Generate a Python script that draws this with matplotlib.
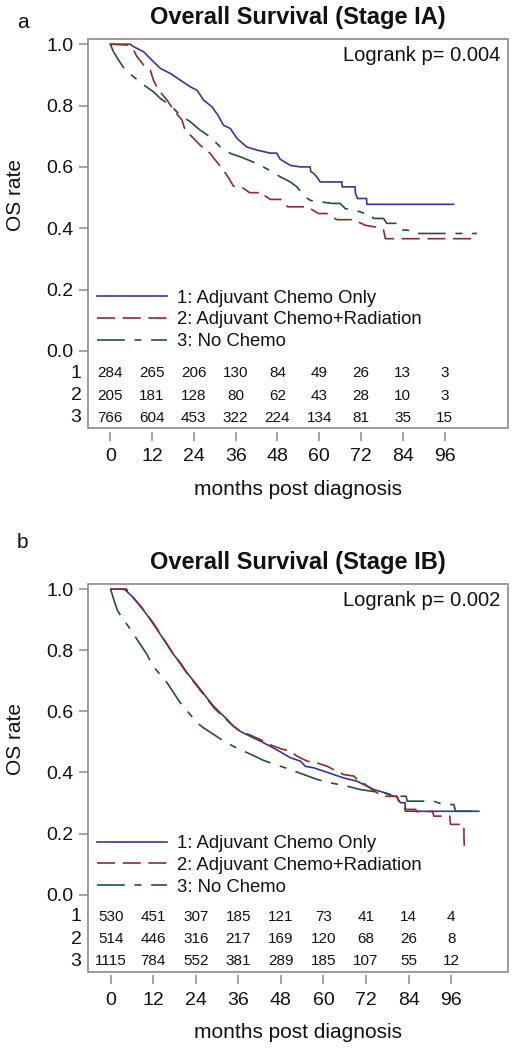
import matplotlib
matplotlib.use("Agg")
import matplotlib.pyplot as plt
from matplotlib.lines import Line2D
from matplotlib.patches import Rectangle
import matplotlib.transforms as mtransforms

plt.rcParams['font.family'] = ['Liberation Sans', 'DejaVu Sans']
plt.rcParams['lines.scale_dashes'] = False

# ---------------- data (curve vertices) ----------------
group_labels = ["1: Adjuvant Chemo Only", "2: Adjuvant Chemo+Radiation", "3: No Chemo"]
risk_times = [0, 12, 24, 36, 48, 60, 72, 84, 96]

# Panel a (Stage IA)
a_t1 = [0, 5.7, 6.7, 9.6, 12.4, 14.4, 17.2, 20.1, 23, 24.9, 26.8, 29.2, 30.9, 32.5, 34.5, 36.4,
        39.2, 42.1, 45.9, 47.8, 48.8, 51.7, 54.5, 57.4, 57.6, 58.4, 59.5, 60.3, 66.5, 66.6, 70.3,
        70.4, 71, 73.6, 73.7, 98.6]
a_s1 = [1.0, 1.0, 0.992, 0.975, 0.943, 0.921, 0.905, 0.883, 0.861, 0.85, 0.818, 0.796, 0.769,
        0.736, 0.725, 0.693, 0.665, 0.655, 0.645, 0.645, 0.625, 0.605, 0.600, 0.600, 0.585, 0.579,
        0.565, 0.551, 0.551, 0.535, 0.535, 0.515, 0.497, 0.497, 0.478, 0.478]
a_t2 = [0, 5, 6.7, 7.7, 9.6, 11.5, 12.4, 13.9, 16.3, 18.2, 20.6, 21.5, 23.5, 25.8, 28.7, 30.2,
        32.1, 33.5, 35.4, 38.3, 40, 44, 44.5, 46, 49, 49.8, 51, 56.5, 57.9, 59.8, 62.2, 63.7, 65.1,
        70, 71.3, 73.2, 76.1, 78, 78.5, 79, 104.3]
a_s2 = [1.0, 0.997, 0.981, 0.959, 0.932, 0.916, 0.883, 0.85, 0.818, 0.785, 0.753, 0.72, 0.698,
        0.671, 0.644, 0.622, 0.595, 0.573, 0.537, 0.53, 0.516, 0.516, 0.505, 0.494, 0.494, 0.483,
        0.47, 0.47, 0.461, 0.448, 0.448, 0.437, 0.428, 0.428, 0.42, 0.41, 0.404, 0.394, 0.394,
        0.366, 0.366]
a_t3 = [0, 0.95, 2.4, 4.3, 6.7, 9.6, 12.4, 14.4, 17.2, 20.1, 23, 25.8, 28.7, 31.6, 34.5, 37.3,
        40.2, 43.1, 45.9, 48.8, 51.7, 53.6, 55.5, 57.4, 60.3, 63.7, 66, 67.5, 70.8, 73.2, 74.5, 75.6,
        78.5, 79.4, 82, 82.3, 83.3, 85.5, 87.1, 105.3]
a_s3 = [1.0, 0.975, 0.948, 0.916, 0.894, 0.867, 0.845, 0.823, 0.801, 0.769, 0.747, 0.72, 0.698,
        0.665, 0.644, 0.633, 0.620, 0.605, 0.588, 0.568, 0.551, 0.535, 0.508, 0.491, 0.486, 0.481,
        0.481, 0.464, 0.457, 0.448, 0.448, 0.432, 0.432, 0.416, 0.416, 0.404, 0.394, 0.394, 0.383,
        0.383]
a_risk1 = [284, 265, 206, 130, 84, 49, 26, 13, 3]
a_risk2 = [205, 181, 128, 80, 62, 43, 28, 10, 3]
a_risk3 = [766, 604, 453, 322, 224, 134, 81, 35, 15]

# Panel b (Stage IB)
b_t1 = [0, 3.75, 4.7, 6.6, 8.5, 10.3, 12.2, 14.1, 16, 17.8, 19.7, 21.6, 23.5, 25.4, 27.2, 29.1,
        31, 32.9, 34.7, 36.6, 39.4, 42.3, 45.1, 47.9, 50.7, 53.5, 54.9, 57.3, 60.1, 62.9, 65.7, 69.5,
        72.3, 74.2, 77.5, 79.8, 80.5, 81.7, 83, 83.1, 103.8]
b_s1 = [1.0, 1.0, 0.991, 0.970, 0.942, 0.915, 0.883, 0.85, 0.817, 0.785, 0.758, 0.725, 0.698,
        0.670, 0.643, 0.616, 0.594, 0.573, 0.551, 0.534, 0.518, 0.502, 0.485, 0.467, 0.448, 0.437,
        0.420, 0.415, 0.404, 0.393, 0.382, 0.371, 0.355, 0.344, 0.333, 0.322, 0.322, 0.301, 0.301,
        0.273, 0.273]
b_t2 = [0, 4.5, 5.5, 6.6, 8.5, 10.3, 12.2, 14.1, 16, 17.8, 19.7, 21.6, 23.5, 25.4, 27.2, 29.1, 31,
        32.9, 34.7, 36.6, 39.4, 42.3, 45.1, 47.9, 50.7, 52.6, 55.4, 58.2, 61.1, 62.9, 65.7, 68.6,
        69.5, 71.9, 73.7, 76.6, 80.8, 81.2, 82.2, 83.1, 86, 86.2, 90.8, 91.1, 95.6, 95.8, 99.6,
        99.6, 99.8]
b_s2 = [1.0, 1.0, 0.985, 0.968, 0.944, 0.917, 0.886, 0.852, 0.818, 0.784, 0.755, 0.723, 0.695,
        0.667, 0.640, 0.612, 0.590, 0.570, 0.550, 0.535, 0.522, 0.507, 0.49, 0.478, 0.469, 0.453,
        0.437, 0.431, 0.420, 0.409, 0.393, 0.388, 0.377, 0.360, 0.344, 0.322, 0.322, 0.305, 0.295,
        0.279, 0.279, 0.272, 0.272, 0.257, 0.257, 0.230, 0.230, 0.19, 0.135]
b_t3 = [0, 0.93, 1.9, 3.3, 4.7, 6.6, 8.5, 10.3, 11.7, 13.6, 16, 17.8, 19.7, 22.1, 24.4, 26.3, 29.1,
        31.9, 34.7, 37.5, 40.3, 43, 45.8, 48.5, 50.7, 54.5, 58.2, 62, 66.7, 70.4, 73.3, 77, 80.8,
        83.3, 83.6, 91, 93.8, 96.8, 97.2, 103.8]
b_s3 = [1.0, 0.964, 0.931, 0.904, 0.883, 0.850, 0.817, 0.785, 0.752, 0.725, 0.692, 0.660, 0.627,
        0.594, 0.562, 0.545, 0.524, 0.502, 0.485, 0.47, 0.455, 0.44, 0.428, 0.418, 0.409, 0.393,
        0.377, 0.366, 0.355, 0.344, 0.339, 0.333, 0.322, 0.322, 0.306, 0.306, 0.295, 0.295, 0.273,
        0.273]
b_risk1 = [530, 451, 307, 185, 121, 73, 41, 14, 4]
b_risk2 = [514, 446, 316, 217, 169, 120, 68, 26, 8]
b_risk3 = [1115, 784, 552, 381, 289, 185, 107, 55, 12]

# ---------------- styles ----------------
colors = ["#36369a", "#8e2b2b", "#23503e"]
dashes = [None, (13, 5.5), (20, 7, 5, 7)]
LW = 1.2
GREY = "#8a8a8a"
TXT = "#111111"

fig = plt.figure(figsize=(5.13, 10.5), dpi=100)


def panel(rect, title, letter, letter_y, pval, curves, risks, xmax, leg_y):
    ax = fig.add_axes(rect)
    ax.set_xlim(-6.3, xmax)
    ax.set_ylim(-0.252, 1.016)
    for sp in ax.spines.values():
        sp.set_color("none")
    ax.spines['bottom'].set_position(('outward', 2.5))
    ax.add_patch(Rectangle((0, 0), 1, 1, transform=ax.transAxes, fill=False,
                           ec=GREY, lw=1.2, clip_on=False, zorder=5))
    handles = []
    for (t, s), c, d in zip(curves, colors, dashes):
        ln, = ax.plot(t, s, color=c, lw=LW, solid_joinstyle='miter')
        if d is not None:
            ln.set_dashes(d)
        h = Line2D([], [], color=c, lw=LW)
        if d is not None:
            h.set_dashes(d)
        handles.append(h)
    ax.set_yticks([0, 0.2, 0.4, 0.6, 0.8, 1.0])
    ax.set_yticklabels(["0.0", "0.2", "0.4", "0.6", "0.8", "1.0"])
    ax.set_xticks(risk_times)
    ax.tick_params(axis='both', colors=GREY, labelcolor=TXT, labelsize=14,
                   length=6.5, width=1.1, direction='out')
    ax.tick_params(axis='x', pad=5.5)
    ax.tick_params(axis='y', pad=4)
    ax.set_ylabel("OS rate", fontsize=15, color=TXT)
    ax.yaxis.set_label_coords(-0.15, 0.6)
    ax.set_xlabel("months post diagnosis", fontsize=15, color=TXT)
    ax.xaxis.set_label_coords(0.5, -0.132)
    ax.set_title(title, fontsize=17, fontweight='bold', color=TXT, pad=11)
    ax.text(0.981, 0.944, pval, transform=ax.transAxes, ha='right', va='baseline',
            fontsize=14.5, color=TXT)
    leg = ax.legend(handles, group_labels, loc='upper left', bbox_to_anchor=(0.02, leg_y),
                    frameon=False, fontsize=13.3, handlelength=3.8, handletextpad=0.55,
                    labelspacing=0.25, borderpad=0, borderaxespad=0)
    for txt in leg.get_texts():
        txt.set_color(TXT)
    row_y = [-0.072, -0.146, -0.218]
    trans = mtransforms.blended_transform_factory(ax.transAxes, ax.transData)
    for k, (ry, vals) in enumerate(zip(row_y, risks)):
        ax.text(-0.016, ry, str(k + 1), transform=trans, ha='right', va='center',
                fontsize=14, color=TXT)
        for tm, v in zip(risk_times, vals):
            ax.text(tm, ry, str(v), ha='center', va='center', fontsize=11, color=TXT)
    fig.text(17 / 513, letter_y, letter, fontsize=15, color=TXT, va='baseline')
    return ax


panel([0.1721, 0.5921, 0.8187, 0.3705], "Overall Survival (Stage IA)", "a", 1 - 28 / 1050,
      "Logrank p= 0.004",
      [(a_t1, a_s1), (a_t2, a_s2), (a_t3, a_s3)], [a_risk1, a_risk2, a_risk3], 114.3, 0.356)
panel([0.1721, 0.0746, 0.8187, 0.369], "Overall Survival (Stage IB)", "b", 1 - 548 / 1050,
      "Logrank p= 0.002",
      [(b_t1, b_s1), (b_t2, b_s2), (b_t3, b_s3)], [b_risk1, b_risk2, b_risk3], 112.1, 0.352)

fig.savefig("out.png", dpi=100, facecolor="white")
